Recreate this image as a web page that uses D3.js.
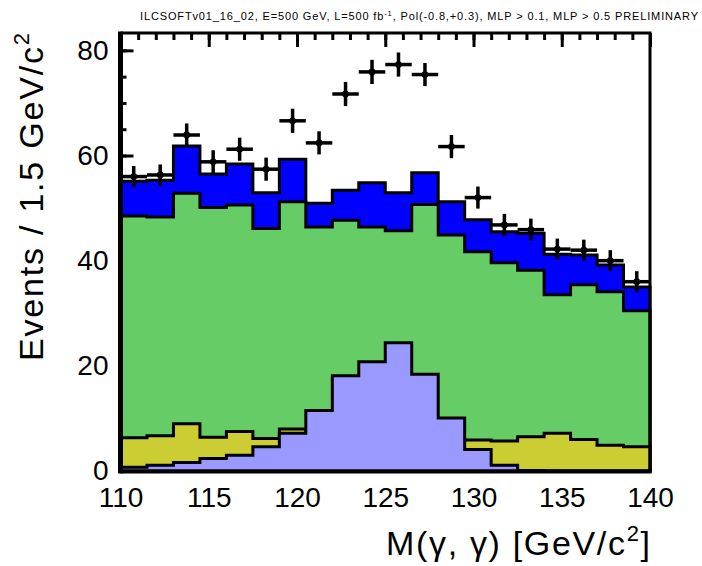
<!DOCTYPE html>
<html><head><meta charset="utf-8">
<script src="https://cdn.jsdelivr.net/npm/d3@7"></script>
<style>
body{margin:0;background:#fff}
svg{display:block}
text{font-family:"Liberation Sans",Arial,Helvetica,sans-serif;fill:#000}
</style>
</head><body>
<svg id="c" width="702" height="566"></svg>
<script>
// ---- data ----
const binEdges = [110,111.5,113,114.5,116,117.5,119,120.5,122,123.5,125,126.5,128,129.5,131,132.5,134,135.5,137,138.5,140];
const dataVals = [56.0,56.3,63.9,58.8,61.2,57.4,66.6,62.4,71.7,75.9,77.3,75.4,61.7,52.0,46.8,45.9,42.2,42.0,40.0,36.0];
const dataErr  = [2.0,2.0,2.2,2.2,2.2,2.2,2.3,2.2,2.3,2.3,2.3,2.2,2.2,2.1,2.1,2.1,2.0,2.0,2.0,2.0];
const bkgBlue   = [55.1,55.3,61.8,56.5,58.4,52.9,59.3,50.9,53.4,54.8,52.9,56.7,51.2,47.8,45.5,45.2,41.2,41.1,39.2,35.0];
const bkgGreen  = [48.5,48.3,52.8,50.1,50.6,46.1,51.2,46.4,47.7,46.4,45.7,50.7,44.9,41.7,39.6,38.2,33.5,35.4,34.1,30.5];
const bkgYellow = [6.3,6.7,9.0,6.4,7.5,6.2,8.0,7.0,6.5,6.2,6.0,5.8,5.8,5.9,5.7,6.5,7.2,6.0,4.9,4.6];
const signal    = [0.7,1.1,1.6,2.4,3.0,4.6,7.2,11.5,18.1,20.8,24.4,18.4,10.1,4.1,1.1,0.1,0,0,0,0];
const xTickVals = [110,115,120,125,130,135,140];
const yTickVals = [0,20,40,60,80];

const svg = d3.select("#c");
const x = d3.scaleLinear().domain([110,140]).range([120.5,650]);
const y = d3.scaleLinear().domain([0,83.3]).range([471,33]);

// left ticks (drawn before histograms so they are covered)
const gl = svg.append("g").attr("transform",`translate(${x(110)},0)`);
gl.call(d3.axisLeft(y).tickValues(d3.range(0,85,5)).tickSize(-6).tickFormat(""));
gl.append("g").call(d3.axisLeft(y).tickValues(yTickVals).tickSize(-13).tickFormat(""));
gl.selectAll("line").attr("stroke","#000").attr("stroke-width",3);
gl.selectAll(".domain").remove();

// top ticks
const gt = svg.append("g").attr("transform",`translate(0,${y.range()[1]})`);
gt.call(d3.axisTop(x).tickValues(d3.range(110,141,1)).tickSize(-7).tickFormat(""));
gt.append("g").call(d3.axisTop(x).tickValues(xTickVals).tickSize(-14).tickFormat(""));
gt.selectAll("line").attr("stroke","#000").attr("stroke-width",3);
gt.selectAll(".domain").remove();

// histograms
function histPts(vals){
  const p = vals.map((v,i)=>({e:binEdges[i],v}));
  p.push({e:binEdges[binEdges.length-1], v:vals[vals.length-1]});
  return p;
}
const area = d3.area().curve(d3.curveStepAfter)
  .x(d=>x(d.e)).y0(y(0)).y1(d=>y(d.v));
const hists = [
  {vals:bkgBlue, fill:"#0000ff"},
  {vals:bkgGreen, fill:"#66cc66"},
  {vals:bkgYellow, fill:"#cccc33"},
  {vals:signal, fill:"#9999ff"}
];
svg.append("g").selectAll("path").data(hists).join("path")
  .attr("d",d=>area(histPts(d.vals)))
  .attr("fill",d=>d.fill)
  .attr("stroke","#000").attr("stroke-width",3)
  .attr("stroke-linejoin","miter");

// data points
const gp = svg.append("g").attr("stroke","#000").attr("stroke-width",3.5);
dataVals.forEach((v,i)=>{
  const cx = x((binEdges[i]+binEdges[i+1])/2);
  gp.append("line").attr("x1",x(binEdges[i])).attr("x2",x(binEdges[i+1]))
    .attr("y1",y(v)).attr("y2",y(v));
  gp.append("line").attr("x1",cx).attr("x2",cx)
    .attr("y1",y(v-dataErr[i])).attr("y2",y(v+dataErr[i]));
  gp.append("circle").attr("cx",cx).attr("cy",y(v)).attr("r",3.4).attr("fill","#000").attr("stroke","none");
});

// frame
const fr = svg.append("g").attr("stroke","#000").attr("fill","none");
fr.append("line").attr("x1",x(110)).attr("x2",x(140)+1.5).attr("y1",y.range()[1]).attr("y2",y.range()[1]).attr("stroke-width",3);
fr.append("line").attr("x1",x(140)).attr("x2",x(140)).attr("y1",y.range()[1]).attr("y2",y(0)).attr("stroke-width",3);
fr.append("line").attr("x1",x(110)).attr("x2",x(110)).attr("y1",y.range()[1]-1.5).attr("y2",y(0)+2.5).attr("stroke-width",5);
fr.append("line").attr("x1",x(110)).attr("x2",x(140)+1.5).attr("y1",y(0)+0.5).attr("y2",y(0)+0.5).attr("stroke-width",4);

// axis labels
const ay = svg.append("g").attr("transform",`translate(${x(110)},0)`)
  .call(d3.axisLeft(y).tickValues(yTickVals).tickSize(0).tickPadding(12));
ay.selectAll(".domain").remove();
ay.selectAll("text").attr("font-size",28).attr("font-family","'Liberation Sans',Arial,sans-serif");

const ax = svg.append("g").attr("transform",`translate(0,${y(0)})`)
  .call(d3.axisBottom(x).tickValues(xTickVals).tickSize(0).tickPadding(16));
ax.selectAll(".domain").remove();
ax.selectAll("text").attr("font-size",28).attr("font-family","'Liberation Sans',Arial,sans-serif");

// titles
const yt = svg.append("text").attr("transform","translate(43,33) rotate(-90)")
  .attr("text-anchor","end").attr("font-size",34).attr("textLength",328).attr("lengthAdjust","spacing");
yt.append("tspan").text("Events / 1.5 GeV/c");
yt.append("tspan").attr("font-size",22).attr("dy",-14).text("2");

const xt = svg.append("text").attr("x",650).attr("y",555)
  .attr("text-anchor","end").attr("font-size",34).attr("textLength",264).attr("lengthAdjust","spacing");
xt.append("tspan").text("M(γ, γ) [GeV/c");
xt.append("tspan").attr("font-size",22).attr("dy",-14).text("2");
xt.append("tspan").attr("dy",14).text("]");

const tt = svg.append("text").attr("x",140).attr("y",20).attr("font-size",11)
  .attr("textLength",558).attr("lengthAdjust","spacing");
tt.append("tspan").text("ILCSOFTv01_16_02, E=500 GeV, L=500 fb");
tt.append("tspan").attr("font-size",7.5).attr("dy",-4).text("-1");
tt.append("tspan").attr("dy",4).text(", Pol(-0.8,+0.3), MLP > 0.1, MLP > 0.5 PRELIMINARY");
</script>
</body></html>
